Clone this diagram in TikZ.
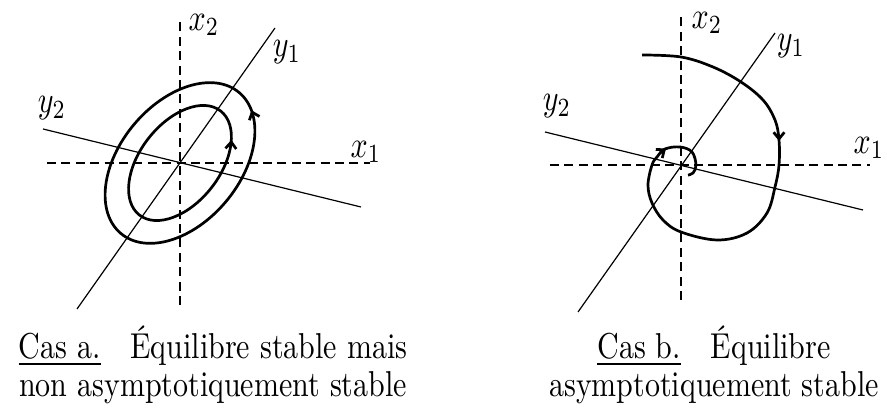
\documentclass[tikz,border=0pt]{standalone}
\usepackage{fontspec}
\usepackage{tikz}
\usetikzlibrary{arrows.meta, decorations.markings}

\begin{document}
\begin{tikzpicture}[x=0.3333pt, y=0.3333pt,
    axis/.style={line width=0.5pt, dash pattern=on 3pt off 1.8pt},
    eig/.style={line width=0.4pt},
    orbit/.style={line width=0.9pt},
    barb/.style={line width=0.9pt, -{Straight Barb[length=2.2pt, width=3.6pt]}},
    lbl/.style={inner sep=0pt, yscale=1.25},
    caption/.style={align=center, font=\fontsize{10}{10.8}\selectfont,
                    inner sep=0pt, yscale=1.2},
    tip/.style={postaction={decorate, decoration={markings,
        mark=at position #1 with {\arrow{Straight Barb[length=2.2pt, width=3.6pt]}}}}}
  ]
  \useasboundingbox (0,0) rectangle (887,410);

  % Cas a : centre, orbites fermees
  \begin{scope}[shift={(180,247)}]
    \draw[axis] (0,-142) -- (0,145);
    \draw[axis] (-133,0) -- (190,0);
    \draw[eig] (-103,-146) -- (95,135);
    \draw[eig] (-137,34) -- (181,-44);
    \draw[orbit, tip=0.955, rotate=50] (0,0) ellipse [x radius=92, y radius=60];
    \draw[orbit, tip=0.905, rotate=52] (0,0) ellipse [x radius=66, y radius=40];
  \end{scope}
  \node[lbl] (x2a) at (204,385) {$x_2$};
  \node[lbl] (y1a) at (287,358) {$y_1$};
  \node[lbl] (y2a) at (52,302) {$y_2$};
  \node[lbl] (x1a) at (366,258) {$x_1$};

  % Cas b : foyer stable
  \begin{scope}[shift={(681,245)}]
    \draw[axis] (0,-135) -- (0,150);
    \draw[axis] (-131,0) -- (189,0);
    \draw[eig] (-103,-147) -- (94,132);
    \draw[eig] (-136,33) -- (182,-45);
    \draw[orbit] plot[smooth, tension=0.6] coordinates {
      (-39,110) (0,108) (32,98) (60,83) (82,65) (94,45) (98,25) (98,0)
      (94,-22) (86,-48) (66,-68) (36,-75) (0,-67) (-18,-55) (-29,-38)
      (-33,-20) (-29,0) (-24,8) (-16,16) (-1,18) (11,13) (15,0) (12,-8) (7,-10)};
    \draw[barb] (98,31) -- (98,24);
    \draw[barb] (-21,12) -- (-15,16.5);
  \end{scope}
  \node[lbl] (x2b) at (707,387) {$x_2$};
  \node[lbl] (y1b) at (791,364) {$y_1$};
  \node[lbl] (y2b) at (557,304) {$y_2$};
  \node[lbl] (x1b) at (869,262) {$x_1$};

  \node[caption, anchor=base] (capa) at (213,13)
    {\underline{Cas a.}\quad Équilibre stable mais\\ non asymptotiquement stable};
  \node[caption, anchor=base] (capb) at (714,13)
    {\underline{Cas b.}\quad Équilibre\\ asymptotiquement stable};
\end{tikzpicture}
\end{document}
